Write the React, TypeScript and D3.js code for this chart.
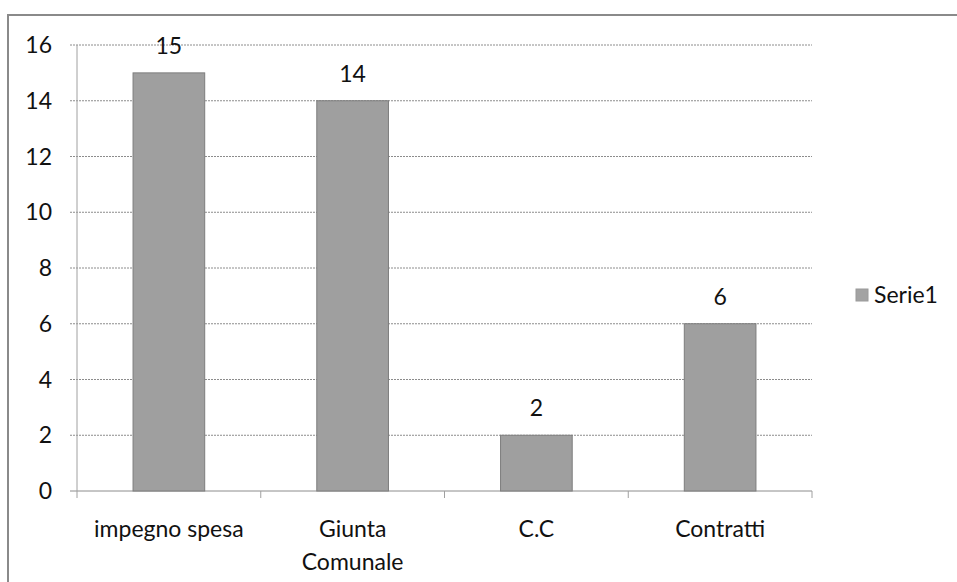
import { useEffect, useRef } from "react"
import * as d3 from "d3"

// Chart values
const categories = ["impegno spesa", "Giunta Comunale", "C.C", "Contratti"]
const categoryLines = [["impegno spesa"], ["Giunta", "Comunale"], ["C.C"], ["Contratti"]]
const values = [15, 14, 2, 6]
const yTicks = [0, 2, 4, 6, 8, 10, 12, 14, 16]
const seriesName = "Serie1"

const FONT = "Lato, 'Open Sans', sans-serif"
const FONT_SIZE = 23

export default function App() {
  const svgRef = useRef<SVGSVGElement>(null)

  useEffect(() => {
    if (!svgRef.current) return
    const svg = d3.select(svgRef.current)
    svg.selectAll("*").remove()

    const width = 957
    const height = 582
    const margin = { top: 45, right: 145, bottom: 91, left: 77 }
    const innerWidth = width - margin.left - margin.right
    const innerHeight = height - margin.top - margin.bottom

    // outer chart border (only left and top edges are inside the scan)
    svg.append("rect")
      .attr("width", width)
      .attr("height", height)
      .attr("fill", "#fff")
    svg.append("path")
      .attr("d", `M8,${height} V15 H${width}`)
      .attr("fill", "none")
      .attr("stroke", "#8a8a8a")
      .attr("stroke-width", 2)

    const g = svg.append("g").attr("transform", `translate(${margin.left},${margin.top})`)

    const x = d3.scaleBand<string>().domain(categories).range([0, innerWidth]).padding(0)
    const y = d3.scaleLinear().domain([0, 16]).range([innerHeight, 0])
    const barWidth = x.bandwidth() * 0.39

    // horizontal gridlines with small ticks left of the axis
    g.selectAll("line.grid")
      .data(yTicks)
      .enter()
      .append("line")
      .attr("class", "grid")
      .attr("x1", -7)
      .attr("x2", innerWidth)
      .attr("y1", (d: number) => y(d))
      .attr("y2", (d: number) => y(d))
      .attr("stroke", "#8c8c8c")
      .attr("stroke-width", 1)
      .attr("stroke-dasharray", (d: number) => (d === 0 ? null : "2,1"))

    // y axis line
    g.append("line")
      .attr("x1", 0)
      .attr("x2", 0)
      .attr("y1", 0)
      .attr("y2", innerHeight)
      .attr("stroke", "#a0a0a0")

    // category tick marks below the x axis
    const boundaries = categories.map((c) => (x(c) ?? 0) + x.bandwidth())
    g.selectAll("line.xtick")
      .data([0, ...boundaries])
      .enter()
      .append("line")
      .attr("class", "xtick")
      .attr("x1", (d: number) => d)
      .attr("x2", (d: number) => d)
      .attr("y1", innerHeight)
      .attr("y2", innerHeight + 7)
      .attr("stroke", "#a0a0a0")

    // y tick labels
    g.selectAll("text.ytick")
      .data(yTicks)
      .enter()
      .append("text")
      .attr("class", "ytick")
      .attr("x", -25)
      .attr("y", (d: number) => y(d))
      .attr("dy", "0.35em")
      .attr("text-anchor", "end")
      .attr("font-family", FONT)
      .attr("font-size", FONT_SIZE)
      .attr("fill", "#111")
      .text((d: number) => d)

    // bars
    g.selectAll("rect.bar")
      .data(values)
      .enter()
      .append("rect")
      .attr("class", "bar")
      .attr("x", (_: number, i: number) => (x(categories[i]) ?? 0) + (x.bandwidth() - barWidth) / 2)
      .attr("y", (d: number) => y(d))
      .attr("width", barWidth)
      .attr("height", (d: number) => innerHeight - y(d))
      .attr("fill", "#9f9f9f")
      .attr("stroke", "#7d7d7d")
      .attr("stroke-width", 1)

    // value labels above bars
    g.selectAll("text.value")
      .data(values)
      .enter()
      .append("text")
      .attr("class", "value")
      .attr("x", (_: number, i: number) => (x(categories[i]) ?? 0) + x.bandwidth() / 2)
      .attr("y", (d: number) => y(d) - 19)
      .attr("text-anchor", "middle")
      .attr("font-family", FONT)
      .attr("font-size", FONT_SIZE)
      .attr("fill", "#111")
      .text((d: number) => d)

    // category labels
    const labels = g.selectAll("text.cat")
      .data(categoryLines)
      .enter()
      .append("text")
      .attr("class", "cat")
      .attr("x", (_: string[], i: number) => (x(categories[i]) ?? 0) + x.bandwidth() / 2)
      .attr("y", innerHeight + 46)
      .attr("text-anchor", "middle")
      .attr("font-family", FONT)
      .attr("font-size", FONT_SIZE)
      .attr("fill", "#111")
    labels.each(function (lines: string[]) {
      const t = d3.select(this)
      lines.forEach((line, j) => {
        t.append("tspan")
          .attr("x", t.attr("x"))
          .attr("dy", j === 0 ? 0 : 33)
          .text(line)
      })
    })

    // legend
    const legend = svg.append("g").attr("transform", "translate(856,289)")
    legend.append("rect")
      .attr("width", 12)
      .attr("height", 12)
      .attr("fill", "#a3a3a3")
      .attr("stroke", "#9a9a9a")
    legend.append("text")
      .attr("x", 18)
      .attr("y", 6)
      .attr("dy", "0.35em")
      .attr("font-family", FONT)
      .attr("font-size", FONT_SIZE)
      .attr("fill", "#111")
      .text(seriesName)
  }, [])

  return (
    <svg
      ref={svgRef}
      width={957}
      height={582}
      style={{ position: "absolute", left: 0, top: 0, background: "#fff" }}
    />
  )
}
